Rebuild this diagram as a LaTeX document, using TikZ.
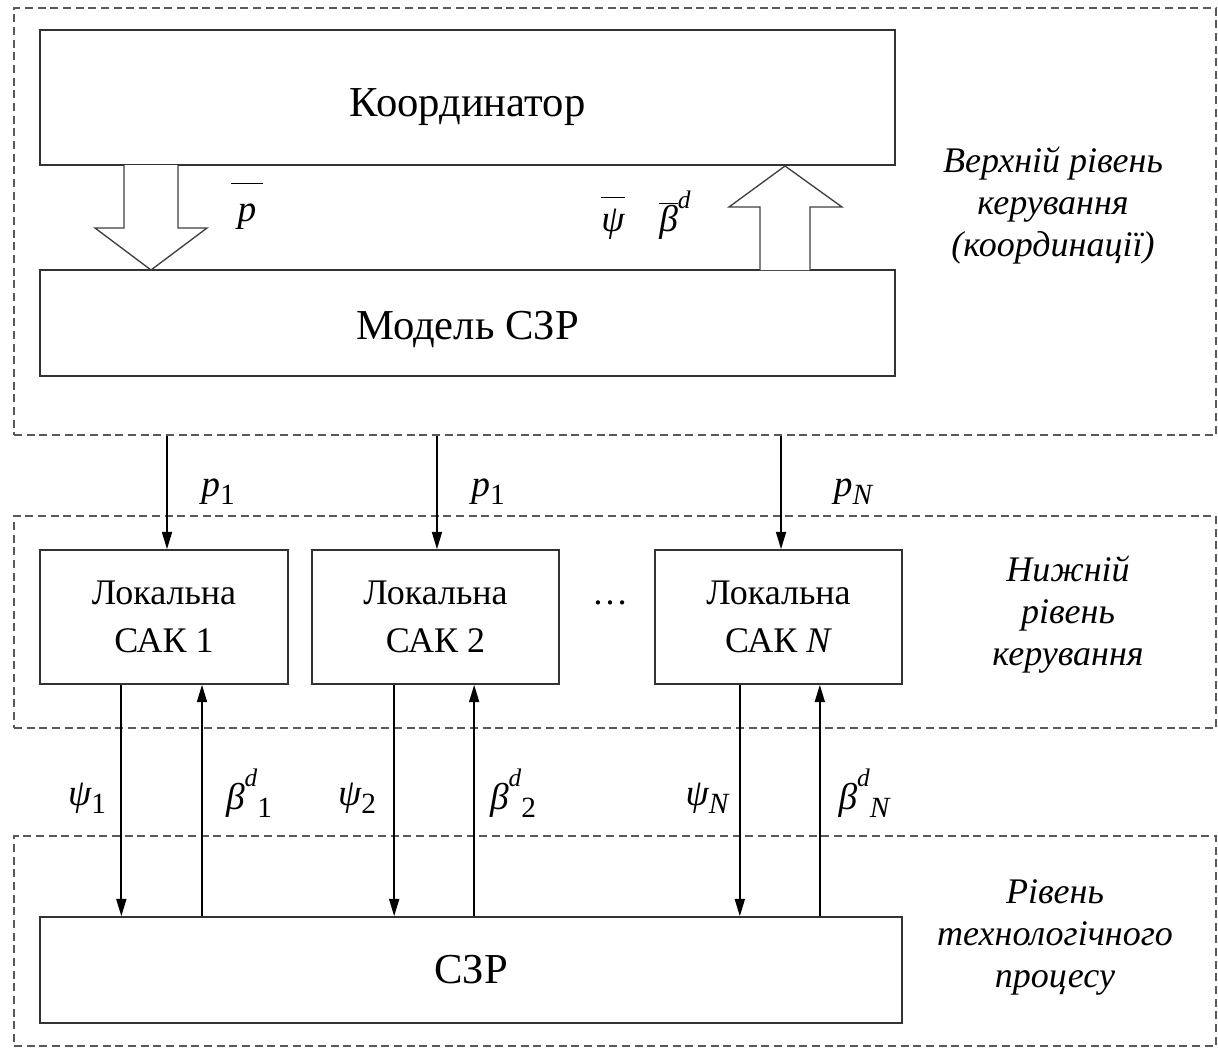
\documentclass[tikz,border=0pt]{standalone}
\usepackage{fontspec}
\setmainfont{Liberation Serif}
\usetikzlibrary{arrows.meta}
\newcommand{\lsub}[1]{\raisebox{-0.22em}{\fontsize{22}{22}\selectfont\upshape #1}}
\newcommand{\lsubi}[1]{\raisebox{-0.22em}{\fontsize{22}{22}\selectfont\itshape #1}}
\newcommand{\lsup}[1]{\raisebox{0.62em}{\fontsize{19}{19}\selectfont\itshape #1}}
\newcommand{\boxtxt}[2]{\raisebox{#1}[0pt][0pt]{#2}}
\begin{document}
\begin{tikzpicture}[x=0.75pt,y=-0.75pt,
 box/.style={draw=black!80, line width=1.2pt, fill=white, inner sep=0pt, align=center},
 lvl/.style={draw=black!65, line width=1.5pt, dash pattern=on 6pt off 3.5pt, inner sep=0pt},
 arr/.style={line width=1.3pt, -{Triangle[length=13pt,width=7.5pt]}},
 hollow/.style={draw=black!75, line width=1pt, fill=white},
 lab/.style={font=\fontsize{28}{30}\selectfont\itshape, inner sep=0pt},
 side/.style={font=\fontsize{27}{31.5}\selectfont\itshape, align=center, inner sep=0pt},
 big/.style={font=\fontsize{32}{36}\selectfont},
 mid/.style={font=\fontsize{27}{36}\selectfont},
]
\useasboundingbox (0,0) rectangle (1218,1049);
% level frames
\node[lvl, minimum width=901.5pt, minimum height=320.25pt] (L1) at (615,221.5) {};
\node[lvl, minimum width=901.5pt, minimum height=159pt] (L2) at (615,622) {};
\node[lvl, minimum width=901.5pt, minimum height=157.5pt] (L3) at (615,941) {};
% upper level
\node[box, big, minimum width=641.25pt, minimum height=101.25pt] (coord) at (467.5,97.5) {\boxtxt{-14pt}{Координатор}};
\node[box, big, minimum width=641.25pt, minimum height=79.5pt] (model) at (467.5,323) {\boxtxt{-12pt}{Модель СЗР}};
% hollow arrows
\draw[hollow] (124,165) -- (124,228) -- (95,228) -- (151,270) -- (207,228) -- (178,228) -- (178,165);
\draw[hollow] (760,270) -- (760,207) -- (729,207) -- (785,166) -- (842,207) -- (810,207) -- (810,270);
\node[lab] (pbar) at (247,206) {$\overline{\hbox{\itshape \,\raisebox{0pt}[0.95em]{p}\,}}$};
\node[lab] (psibar) at (613,218) {$\overline{\hbox{\itshape \raisebox{0pt}[0.85em]{ψ}}}$};
\node[lab] (betabar) at (675,215) {$\overline{\hbox{\itshape β}}$\lsup{d}};
\node[side] (t1) at (1053,206) {Верхній рівень\\керування\\(координації)};
% local level
\node[box, mid, minimum width=186pt, minimum height=100.5pt] (s1) at (164,617) {Локальна\\САК 1};
\node[box, mid, minimum width=185.25pt, minimum height=100.5pt] (s2) at (435.5,617) {Локальна\\САК 2};
\node[box, mid, minimum width=185.25pt, minimum height=100.5pt] (sN) at (778.5,617) {Локальна\\САК \textit{N}};
\node[mid, inner sep=0pt] (dots) at (610,603) {…};
\node[side] (t2) at (1068,615) {Нижній\\рівень\\керування};
\draw[arr] ([xshift=2.25pt]s1.north |- L1.south) -- ([xshift=2.25pt]s1.north);
\draw[arr] ([xshift=1.1pt]s2.north |- L1.south) -- ([xshift=1.1pt]s2.north);
\draw[arr] ([xshift=1.9pt]sN.north |- L1.south) -- ([xshift=1.9pt]sN.north);
\node[lab] (p1) at (218,492) {p\lsub{1}};
\node[lab] (p2) at (488,492) {p\lsub{1}};
\node[lab] (pN) at (853,492) {p\lsubi{N}};
% process level
\node[box, big, minimum width=646.5pt, minimum height=79.5pt] (szr) at (471,970) {СЗР};
\node[side] (t3) at (1055,937) {Рівень\\технологічного\\процесу};
\draw[arr] ([xshift=-32pt]s1.south) -- ([xshift=-32pt]s1.south |- szr.north);
\draw[arr] ([xshift=28.5pt]s1.south |- szr.north) -- ([xshift=28.5pt]s1.south);
\draw[arr] ([xshift=-31pt]s2.south) -- ([xshift=-31pt]s2.south |- szr.north);
\draw[arr] ([xshift=29pt]s2.south |- szr.north) -- ([xshift=29pt]s2.south);
\draw[arr] ([xshift=-29pt]sN.south) -- ([xshift=-29pt]sN.south |- szr.north);
\draw[arr] ([xshift=31pt]sN.south |- szr.north) -- ([xshift=31pt]sN.south);
\node[lab] (psi1) at (87,798) {ψ\lsub{1}};
\node[lab] (b1) at (249,793) {β\lsup{d}\lsub{1}};
\node[lab] (psi2) at (357,798) {ψ\lsub{2}};
\node[lab] (b2) at (513,793) {β\lsup{d}\lsub{2}};
\node[lab] (psiN) at (707,798) {ψ\lsubi{N}};
\node[lab] (bN) at (864,793) {β\lsup{d}\lsubi{N}};
\end{tikzpicture}
\end{document}
